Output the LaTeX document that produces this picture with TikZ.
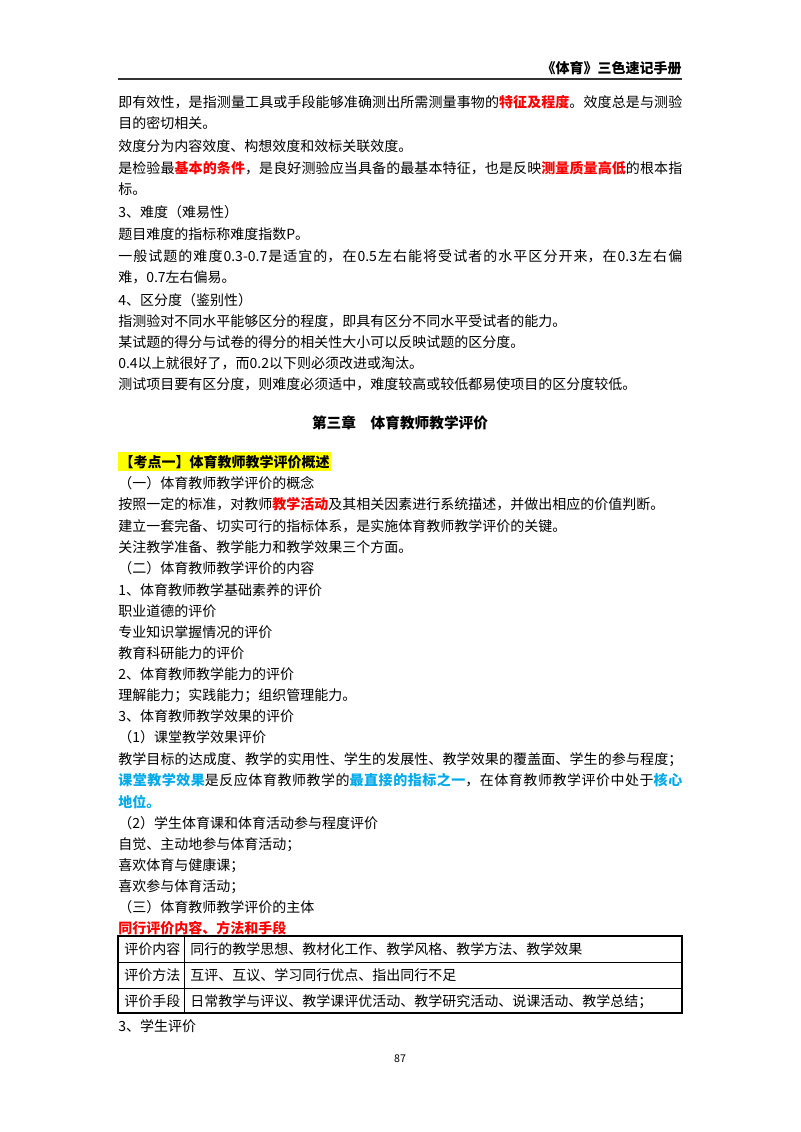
\documentclass[tikz,border=0pt]{standalone}
\usepackage{fontspec}
\setmainfont{Noto Sans CJK SC}
\XeTeXlinebreaklocale "zh"
\XeTeXlinebreakskip=0pt plus 2pt
\definecolor{kred}{RGB}{255,0,0}
\definecolor{kblue}{RGB}{0,170,235}
\definecolor{kyel}{RGB}{255,255,0}
\newcommand{\rb}[1]{{\color{kred}\bfseries #1}}
\newcommand{\bb}[1]{{\color{kblue}\bfseries #1}}
\tikzset{
  ln/.style={anchor=base west,inner sep=0pt,font=\fontsize{10.5pt}{16.2pt}\selectfont},
  par/.style={ln,text width=423pt,align=justify},
  cell/.style={anchor=base west,inner sep=0pt,font=\fontsize{10.5pt}{16pt}\selectfont}
}
\begin{document}
\begin{tikzpicture}[x=0.75pt,y=-0.75pt]
\useasboundingbox[fill=white] (0,0) rectangle (800,1132);
\node[ln,anchor=base east,font=\fontsize{10.5pt}{14pt}\selectfont\bfseries] (hd) at (682,73) {《体育》三色速记手册};
\draw[line width=0.8pt,black!80] (118,79) coordinate (h1) -- (682,79) coordinate (h2);
\node[par] (p1) at (118,107) {即有效性，是指测量工具或手段能够准确测出所需测量事物的\rb{特征及程度}。效度总是与测验\linebreak 目的密切相关。};
\node[ln] (p2) at (118,151) {效度分为内容效度、构想效度和效标关联效度。};
\node[par] (p3) at (118,173) {是检验最\rb{基本的条件}，是良好测验应当具备的最基本特征，也是反映\rb{测量质量高低}的根本指\linebreak 标。};
\node[ln] (p4) at (118,217) {3、难度（难易性）};
\node[ln] (p5) at (118,239) {题目难度的指标称难度指数P。};
\node[par] (p6) at (118,261) {一般试题的难度0.3-0.7是适宜的，在0.5左右能将受试者的水平区分开来，在0.3左右偏\linebreak 难，0.7左右偏易。};
\node[ln] (p7) at (118,305) {4、区分度（鉴别性）};
\node[ln] (p8) at (118,326) {指测验对不同水平能够区分的程度，即具有区分不同水平受试者的能力。};
\node[ln] (p9) at (118,347) {某试题的得分与试卷的得分的相关性大小可以反映试题的区分度。};
\node[ln] (p10) at (118,368) {0.4以上就很好了，而0.2以下则必须改进或淘汰。};
\node[ln] (p11) at (118,389) {测试项目要有区分度，则难度必须适中，难度较高或较低都易使项目的区分度较低。};
\node[ln,anchor=base,font=\fontsize{11pt}{14pt}\selectfont\bfseries] (ch) at (400,428) {第三章\quad 体育教师教学评价};
\node[ln,fill=kyel,inner ysep=2pt,inner xsep=1pt,font=\fontsize{10.5pt}{14pt}\selectfont\bfseries] (kd) at (118,467) {【考点一】体育教师教学评价概述};
\node[ln] (q1) at (118,488) {（一）体育教师教学评价的概念};
\node[ln] (q2) at (118,509) {按照一定的标准，对教师\rb{教学活动}及其相关因素进行系统描述，并做出相应的价值判断。};
\node[ln] (q3) at (118,531) {建立一套完备、切实可行的指标体系，是实施体育教师教学评价的关键。};
\node[ln] (q4) at (118,552) {关注教学准备、教学能力和教学效果三个方面。};
\node[ln] (q5) at (118,573) {（二）体育教师教学评价的内容};
\node[ln] (q6) at (118,595) {1、体育教师教学基础素养的评价};
\node[ln] (q7) at (118,616) {职业道德的评价};
\node[ln] (q8) at (118,637) {专业知识掌握情况的评价};
\node[ln] (q9) at (118,658) {教育科研能力的评价};
\node[ln] (q10) at (118,679) {2、体育教师教学能力的评价};
\node[ln] (q11) at (118,700) {理解能力；实践能力；组织管理能力。};
\node[ln] (q12) at (118,721) {3、体育教师教学效果的评价};
\node[ln] (q13) at (118,742) {（1）课堂教学效果评价};
\node[par] (q14) at (118,764) {教学目标的达成度、教学的实用性、学生的发展性、教学效果的覆盖面、学生的参与程度；\linebreak \bb{课堂教学效果}是反应体育教师教学的\bb{最直接的指标之一}，在体育教师教学评价中处于\bb{核心}\linebreak \bb{地位。}};
\node[ln] (q15) at (118,828) {（2）学生体育课和体育活动参与程度评价};
\node[ln] (q16) at (118,849) {自觉、主动地参与体育活动；};
\node[ln] (q17) at (118,870) {喜欢体育与健康课；};
\node[ln] (q18) at (118,891) {喜欢参与体育活动；};
\node[ln] (q19) at (118,912) {（三）体育教师教学评价的主体};
\node[ln] (q20) at (118,933) {\rb{同行评价内容、方法和手段}};
% table
\draw[line width=0.8pt] (118,936) coordinate (t1) rectangle (682,1013) coordinate (t2);
\draw[line width=0.6pt] (118,962) -- (682,962) (118,988) -- (682,988) (184,936) -- (184,1013);
\node[cell] (a1) at (124,954) {评价内容};
\node[cell] (b1) at (190,954) {同行的教学思想、教材化工作、教学风格、教学方法、教学效果};
\node[cell] (a2) at (124,980) {评价方法};
\node[cell] (b2) at (190,980) {互评、互议、学习同行优点、指出同行不足};
\node[cell] (a3) at (124,1006) {评价手段};
\node[cell] (b3) at (190,1006) {日常教学与评议、教学课评优活动、教学研究活动、说课活动、教学总结；};
\node[ln] (q21) at (118,1031) {3、学生评价};
\node[ln,anchor=base,font=\fontsize{8pt}{10pt}\selectfont] (pg) at (400,1062) {87};
\end{tikzpicture}
\end{document}
